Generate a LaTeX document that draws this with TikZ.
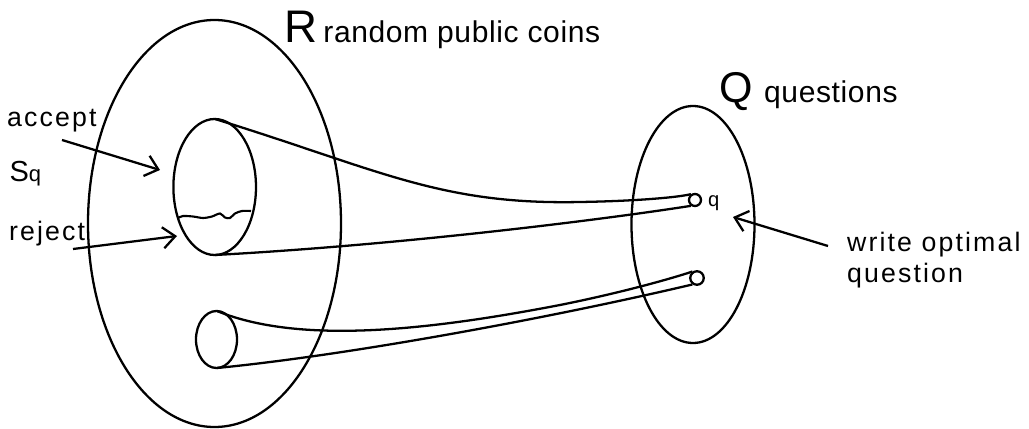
\documentclass[tikz,border=0pt]{standalone}
\usepackage{fontspec}
\setmainfont{Liberation Sans}
\newfontfamily\spacedfont[LetterSpace=8]{Liberation Sans}
\newfontfamily\headfont[LetterSpace=2]{Liberation Sans}
\usetikzlibrary{arrows.meta, positioning}

\begin{document}
\begin{tikzpicture}[
    x=0.02cm, y=-0.02cm,
    line width=1.3pt,
    lbl/.style={inner sep=0pt, anchor=base west, font=\spacedfont\fontsize{15.2}{17}\selectfont},
    headtxt/.style={inner sep=0pt, anchor=base west, font=\headfont\fontsize{17.1}{20}\selectfont},
    bigletter/.style={inner sep=0pt, anchor=base west, font=\fontsize{26}{30}\selectfont},
    dot/.style={draw, circle, inner sep=0pt, minimum size=0.24cm},
    arr/.style={-{Straight Barb[length=7pt, width=12pt]}}
]
\useasboundingbox (0,0) rectangle (1029,429);

% the two sets
\coordinate (Rc) at (214.5,223.5);
\coordinate (Sc) at (214.7,187);
\coordinate (Tc) at (216.5,339.5);
\coordinate (Qc) at (693,224.5);
\draw (Rc) ellipse [x radius=126.5, y radius=203.5];
\draw (Sc) ellipse [x radius=41.3, y radius=68];
\draw (Tc) ellipse [x radius=20.5, y radius=28.5];
\draw (Qc) ellipse [x radius=61.5, y radius=118.5];

\node[bigletter] (R) at (283.5,43) {R};
\node[headtxt] (coins) at ([xshift=0.07cm]R.base east) {random public coins};
\node[bigletter, font=\fontsize{24.5}{28}\selectfont] (Q) at (718.3,103) {Q};
\node[headtxt] (quest) at ([xshift=0.18cm]Q.base east) {questions};

% accept / reject split
\draw[line width=1.2pt] plot[smooth] coordinates {(178,218) (183,216) (193,216.5) (203,218) (212,216.5) (220,213.5) (225,217.5) (230,218) (235,213.5) (242,211) (251,211)};

\node[lbl] (accept) at (6,127) {accept};
\node[inner sep=0pt, anchor=base west, font=\fontsize{16.5}{18}\selectfont] (sq) at (8.5,182) {S{\fontsize{12.5}{14}\selectfont q}};
\node[lbl] (reject) at (8,240) {reject};

\coordinate (accTail) at (62,140);
\coordinate (accTip) at (160,170);
\coordinate (rejTail) at (73,249);
\coordinate (rejTip) at (177,236);
\draw[arr] (accTail) -- (accTip);
\draw[arr] (rejTail) -- (rejTip);

% questions
\node[dot] (qdot) at (695,200) {};
\node[dot, minimum size=0.27cm] (ldot) at (697,278) {};
\node[inner sep=0pt, anchor=base west, font=\fontsize{11.5}{13}\selectfont] (qlab) at (707,207) {q};

% tubes
\coordinate (s1top) at (215,119);
\coordinate (s1bot) at (215,255);
\coordinate (s2top) at (217,311);
\coordinate (s2bot) at (217,368);
\draw (s1top) .. controls (380,170) and (440,205) .. (580,202) .. controls (640,201) and (680,197) .. (qdot.125);
\draw (s1bot) .. controls (400,245) and (600,220) .. (qdot.235);
\draw (s2top) .. controls (300,345) and (430,330) .. (560,305) .. controls (620,293) and (670,279) .. (ldot.125);
\draw (s2bot) .. controls (350,355) and (550,318) .. (ldot.235);

\node[lbl] (write) at (846,252) {write optimal};
\node[lbl] (wquest) at (846,282) {question};
\coordinate (wTail) at (828,246);
\coordinate (wTip) at (733,217);
\draw[arr] (wTail) -- (wTip);

\end{tikzpicture}
\end{document}
